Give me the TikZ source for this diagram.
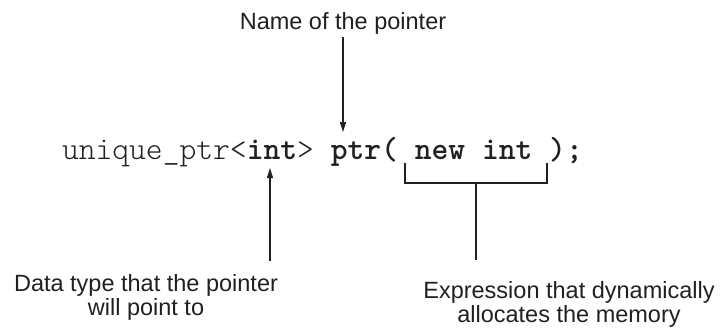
\documentclass[tikz,border=0pt]{standalone}
\usepackage{fontspec}
\setmainfont{Liberation Sans}
\newfontfamily\codefont{lmmonolt10-regular.otf}[BoldFont=lmmonolt10-bold.otf]
\usetikzlibrary{arrows.meta}
\definecolor{ink}{RGB}{35,31,32}
\tikzset{
  lbl/.style={font=\fontsize{23.5}{23.5}\selectfont, text=ink, align=center, inner sep=0pt},
  code/.style={font=\codefont\fontsize{32}{36}\selectfont, text=ink, inner sep=0pt, outer sep=0pt, anchor=base west},
  arr/.style={draw=ink, line width=1.1pt, -{Triangle[length=10pt,width=6pt]}},
  brk/.style={draw=ink, line width=2pt}
}
\begin{document}
\begin{tikzpicture}[x=1pt,y=-1pt]
\useasboundingbox (0,0) rectangle (721,330);
% labels (anchor=base is the baseline of the last line)
\node[lbl, anchor=base] (name) at (343,29) {Name of the pointer};
\node[lbl, anchor=base] (dt) at (146,315) {Data type that the pointer\\will point to};
\node[lbl, anchor=base] (ex) at (569,322) {Expression that dynamically\\allocates the memory};
% code line
\node[code] (c1) at (62,159) {unique\_ptr<};
\node[code] (cint) at (c1.base east) {\bfseries int};
\node[code] (c3) at (cint.base east) {>};
\node[code] (cptr) at ([xshift=16.8pt]c3.base east) {\bfseries ptr(};
\node[code] (cnew) at ([xshift=16.8pt]cptr.base east) {\bfseries new int};
\node[code] (cend) at ([xshift=16.8pt]cnew.base east) {\bfseries );};
% connectors
\coordinate (nametop) at (343,37);
\coordinate (ptrtip) at (343,132);
\draw[arr] (nametop) -- (ptrtip);
\coordinate (intbot) at (270,261);
\coordinate (inttip) at (270,168);
\draw[arr] (intbot) -- (inttip);
\coordinate (bl) at (405,163);
\coordinate (br) at (547,163);
\coordinate (stemtop) at (476,183);
\coordinate (stembot) at (476,260);
\draw[brk] (bl) -- (bl |- stemtop) -- (br |- stemtop) -- (br);
\draw[brk] (stemtop) -- (stembot);
\end{tikzpicture}
\end{document}
